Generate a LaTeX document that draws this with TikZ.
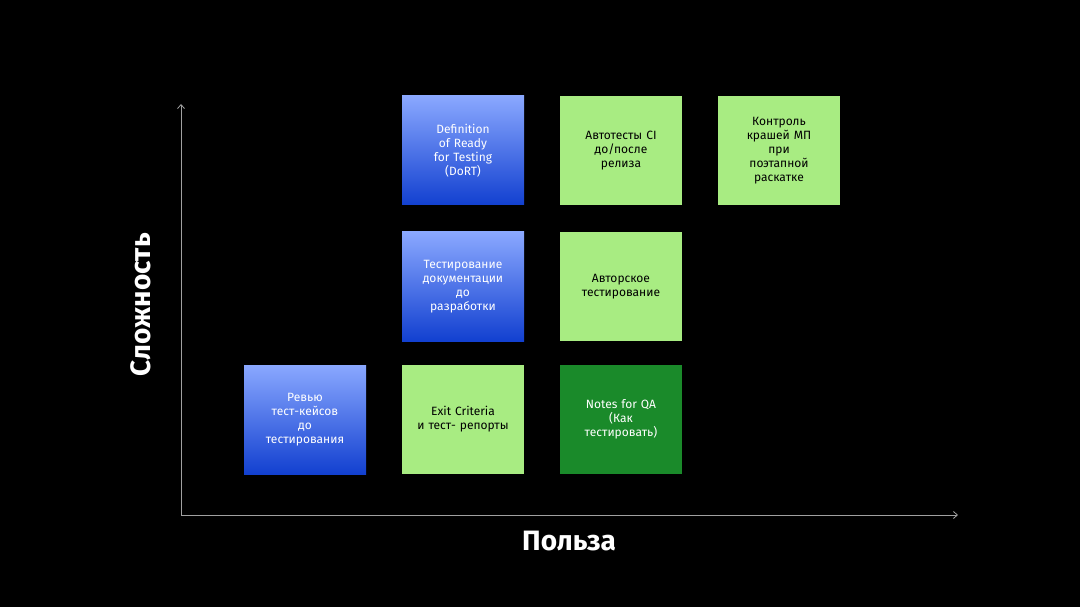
\documentclass[tikz,border=0pt]{standalone}
\usepackage{fontspec}
\setmainfont{Fira Sans}
\usetikzlibrary{arrows.meta}
\definecolor{bluetop}{HTML}{8AA8FF}
\definecolor{bluebot}{HTML}{1240D0}
\definecolor{lightgreen}{HTML}{A8EC82}
\definecolor{darkgreen}{HTML}{1A8A2A}
\definecolor{axisgray}{HTML}{A0A0A0}
\tikzset{
  card/.style={minimum width=122pt, minimum height=109pt, inner sep=4pt,
    align=center, text width=110pt, font=\fontsize{12}{14}\selectfont},
  bluecard/.style={card, top color=bluetop, bottom color=bluebot, text=white},
  greencard/.style={card, fill=lightgreen, text=black},
  darkcard/.style={card, fill=darkgreen, text=white},
  axis/.style={draw=axisgray, line width=0.8pt, -{Straight Barb[length=4pt,width=7pt]}},
}
\begin{document}
\begin{tikzpicture}[x=1pt,y=-1pt]
\fill[black] (0,0) rectangle (1080,607);
\useasboundingbox (0,0) rectangle (1080,607);

% cards, row by row
\node[bluecard] (dort) at (463,150.5) {Definition\\of Ready\\for Testing\\(DoRT)};
\node[greencard] (autotests) at (621,150.5) {Автотесты CI\\до/после\\релиза};
\node[greencard] (crashes) at (779,150.5) {Контроль\\крашей МП\\при\\поэтапной\\раскатке};
\node[bluecard] (doctest) at (463,286.5) {Тестирование\\документации\\до\\разработки};
\node[greencard] (author) at (621,286.5) {Авторское\\тестирование};
\node[bluecard] (review) at (305,419.5) {Ревью\\тест-кейсов\\до\\тестирования};
\node[greencard] (exit) at (463,419.5) {Exit Criteria\\и тест- репорты};
\node[darkcard] (notes) at (621,419.5) {Notes for QA\\(Как\\тестировать)};

% axes
\coordinate (origin) at (181,515);
\coordinate (ytop) at (181,104);
\coordinate (xend) at (958,515);
\draw[axis] (origin) -- (ytop);
\draw[axis] (origin) -- (xend);
\node[text=white, font=\fontsize{28}{30}\selectfont\bfseries] (xlabel) at (569,541) {Польза};
\node[text=white, font=\fontsize{28}{30}\selectfont\bfseries, rotate=90] (ylabel) at (141,305) {Сложность};
\end{tikzpicture}
\end{document}
